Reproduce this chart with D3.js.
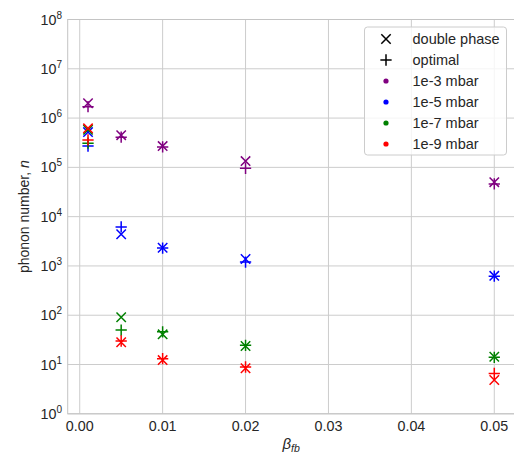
<!DOCTYPE html>
<html><head><meta charset="utf-8">
<script src="https://cdn.jsdelivr.net/npm/d3@7"></script>
<style>
body{margin:0;background:#fff;}
svg{font-family:"Liberation Sans",Arial,sans-serif;}
</style></head>
<body><svg id="c" width="514" height="454"></svg>
<script>
const betas = [0.001, 0.005, 0.01, 0.02, 0.05];
const pressures = ["1e-3 mbar", "1e-5 mbar", "1e-7 mbar", "1e-9 mbar"];
const colors = ["#800080", "#0000ff", "#008000", "#ff0000"];
// double phase (x markers)
const doublePhase = [
  [2.0e6, 4.5e5, 2.7e5, 1.34e5, 5.0e4],
  [5.2e5, 4.4e3, 2.34e3, 1.38e3, 630],
  [5.8e5, 91, 41, 23.7, 14.4],
  [6.2e5, 28.3, 12.3, 8.4, 4.85]
];
// optimal (+ markers)
const optimal = [
  [1.7e6, 4.1e5, 2.6e5, 9.6e4, 4.6e4],
  [2.7e5, 6.2e3, 2.3e3, 1.2e3, 620],
  [3.1e5, 50, 46, 24.5, 14],
  [3.6e5, 30, 13.1, 8.9, 6.6]
];
const xTicks = [0.00, 0.01, 0.02, 0.03, 0.04, 0.05];
const yTicks = [0,1,2,3,4,5,6,7,8];

const svg = d3.select("#c");
const L = 67.7, R = 514.6, T = 19.5, B = 413.8;
const x = d3.scaleLinear().domain([-0.00145, 0.05245]).range([L, R]);
const y = d3.scaleLog().domain([1, 1e8]).range([B, T]);
const textCol = "#262626";

// grid
const g = svg.append("g");
g.selectAll("line.vg").data(xTicks).enter().append("line")
  .attr("x1", d => x(d)).attr("x2", d => x(d)).attr("y1", T).attr("y2", B)
  .attr("stroke", "#cccccc").attr("stroke-width", 1);
g.selectAll("line.hg").data(yTicks).enter().append("line")
  .attr("x1", L).attr("x2", R).attr("y1", d => y(Math.pow(10, d))).attr("y2", d => y(Math.pow(10, d)))
  .attr("stroke", "#cccccc").attr("stroke-width", 1);
// spines
svg.append("rect").attr("x", L).attr("y", T).attr("width", R - L).attr("height", B - T)
  .attr("fill", "none").attr("stroke", "#c4c4c4").attr("stroke-width", 1);

// x tick labels
svg.selectAll("text.xt").data(xTicks).enter().append("text")
  .attr("x", d => x(d)).attr("y", 430.5).attr("text-anchor", "middle")
  .attr("font-size", 14.3).attr("fill", textCol).text(d => d3.format(".2f")(d));
// y tick labels
const yt = svg.selectAll("text.yt").data(yTicks).enter().append("text")
  .attr("x", 62).attr("y", d => y(Math.pow(10, d)) + 5).attr("text-anchor", "end")
  .attr("font-size", 14.3).attr("fill", textCol);
yt.append("tspan").text("10");
yt.append("tspan").attr("dy", -6).attr("font-size", 10).text(d => d);

// axis labels
const xl = svg.append("text").attr("x", (L + R) / 2).attr("y", 449).attr("text-anchor", "middle")
  .attr("font-size", 15).attr("fill", textCol);
xl.append("tspan").attr("font-style", "italic").text("β");
xl.append("tspan").attr("font-style", "italic").attr("font-size", 10.5).attr("dy", 3).text("fb");
const yl = svg.append("text").attr("transform", `translate(28.5,${(T + B) / 2}) rotate(-90)`)
  .attr("text-anchor", "middle").attr("font-size", 14).attr("fill", textCol);
yl.append("tspan").text("phonon number, ");
yl.append("tspan").attr("font-style", "italic").text("n");

// markers
const s = 4.7;
function drawX(sel, cx, cy, col) {
  sel.append("path").attr("d", `M${cx - s},${cy - s}L${cx + s},${cy + s}M${cx - s},${cy + s}L${cx + s},${cy - s}`)
    .attr("stroke", col).attr("stroke-width", 1.5).attr("fill", "none");
}
function drawP(sel, cx, cy, col) {
  const p = s * 1.2;
  sel.append("path").attr("d", `M${cx - p},${cy}L${cx + p},${cy}M${cx},${cy - p}L${cx},${cy + p}`)
    .attr("stroke", col).attr("stroke-width", 1.5).attr("fill", "none");
}
const mk = svg.append("g");
pressures.forEach((p, i) => {
  betas.forEach((b, j) => drawX(mk, x(b), y(doublePhase[i][j]), colors[i]));
  betas.forEach((b, j) => drawP(mk, x(b), y(optimal[i][j]), colors[i]));
});

// legend
const lg = svg.append("g");
lg.append("rect").attr("x", 364.5).attr("y", 27).attr("width", 142).attr("height", 128)
  .attr("rx", 3).attr("fill", "#fff").attr("fill-opacity", 0.8).attr("stroke", "#cccccc");
const rows = ["double phase", "optimal"].concat(pressures);
rows.forEach((r, i) => {
  const cy = 39 + i * 21;
  if (i === 0) drawX(lg, 386, cy, "#000");
  else if (i === 1) drawP(lg, 386, cy, "#000");
  else lg.append("circle").attr("cx", 386).attr("cy", cy).attr("r", 2.6).attr("fill", colors[i - 2]);
  lg.append("text").attr("x", 412.5).attr("y", cy + 5).attr("font-size", 14.5).attr("fill", textCol).text(r);
});
</script></body></html>
